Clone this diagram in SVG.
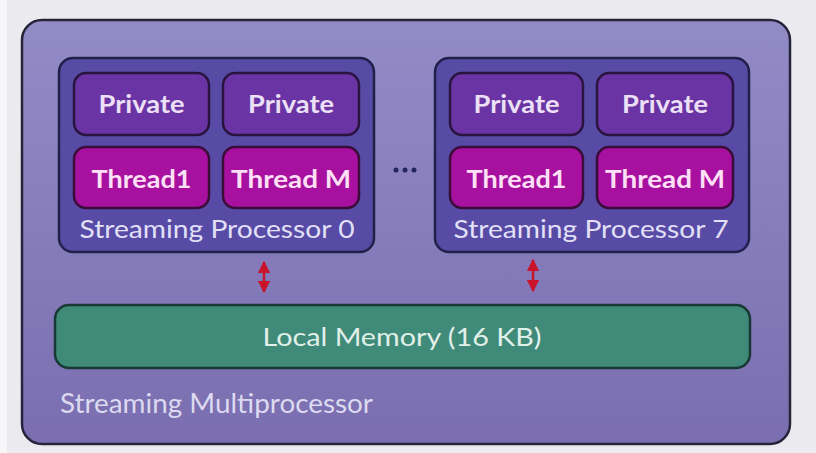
<svg xmlns="http://www.w3.org/2000/svg" width="816" height="453" viewBox="0 0 816 453">
  <style>
    .lbl { font-family: "Lato", "Liberation Sans", sans-serif; text-anchor: middle; }
    .sp { fill: #574ba6; stroke: #22204a; stroke-width: 2.5; }
    .priv { fill: #6a34a4; stroke: #28143f; stroke-width: 2.5; }
    .thr { fill: #a8119f; stroke: #3a0c38; stroke-width: 2.5; }
    .privtxt { fill: #ece0f6; font-size: 24px; font-weight: bold; }
    .thrtxt { fill: #fde0f6; font-size: 25px; font-weight: bold; }
    .sptxt { fill: #e2e0f6; font-size: 25px; }
    .arrow { stroke: #c8142a; stroke-width: 2.5; fill: none; }
  </style>
  <defs>
    <linearGradient id="smFill" x1="0" y1="0" x2="0" y2="1">
      <stop offset="0" stop-color="#938bc6"/>
      <stop offset="1" stop-color="#7a6eb0"/>
    </linearGradient>
    <marker id="head" viewBox="0 0 10 10" refX="9" refY="5" markerWidth="5" markerHeight="5" orient="auto-start-reverse">
      <path d="M0,0 L10,5 L0,10 z" fill="#c8142a"/>
    </marker>
  </defs>

  <!-- page background -->
  <rect x="0" y="0" width="816" height="453" fill="#ebebef"/>
  <rect x="0" y="0" width="7" height="453" fill="#f6f6f8"/>

  <!-- streaming multiprocessor frame -->
  <g id="streaming-multiprocessor">
    <rect x="22" y="20" width="768" height="424" rx="20" fill="url(#smFill)" stroke="#26243a" stroke-width="2.5"/>
    <text x="60" y="413" textLength="313" lengthAdjust="spacingAndGlyphs" style="font-family: 'Lato', 'Liberation Sans', sans-serif; font-size: 26px; fill: #dcdaf0;">Streaming Multiprocessor</text>
  </g>

  <!-- streaming processor 0 -->
  <g id="sp0">
    <rect class="sp" x="59" y="58" width="315" height="194" rx="14"/>
    <rect class="priv" x="74" y="73" width="135" height="62" rx="12"/>
    <text class="lbl privtxt" x="141.5" y="113" textLength="86" lengthAdjust="spacingAndGlyphs">Private</text>
    <rect class="priv" x="223" y="73" width="136" height="62" rx="12"/>
    <text class="lbl privtxt" x="291" y="113" textLength="86" lengthAdjust="spacingAndGlyphs">Private</text>
    <rect class="thr" x="74" y="147" width="135" height="61" rx="12"/>
    <text class="lbl thrtxt" x="141.5" y="188" textLength="100" lengthAdjust="spacingAndGlyphs">Thread1</text>
    <rect class="thr" x="223" y="147" width="136" height="61" rx="12"/>
    <text class="lbl thrtxt" x="291" y="188" textLength="120" lengthAdjust="spacingAndGlyphs">Thread M</text>
    <text class="lbl sptxt" x="217" y="238" textLength="275" lengthAdjust="spacingAndGlyphs">Streaming Processor 0</text>
  </g>

  <!-- ellipsis between processors -->
  <g id="ellipsis" fill="#25255e">
    <circle cx="396" cy="170" r="2.5"/>
    <circle cx="405" cy="170" r="2.5"/>
    <circle cx="414" cy="170" r="2.5"/>
  </g>

  <!-- streaming processor 7 -->
  <g id="sp7">
    <rect class="sp" x="435" y="58" width="314" height="194" rx="14"/>
    <rect class="priv" x="450" y="73" width="133" height="62" rx="12"/>
    <text class="lbl privtxt" x="516.5" y="113" textLength="86" lengthAdjust="spacingAndGlyphs">Private</text>
    <rect class="priv" x="597" y="73" width="136" height="62" rx="12"/>
    <text class="lbl privtxt" x="665" y="113" textLength="86" lengthAdjust="spacingAndGlyphs">Private</text>
    <rect class="thr" x="450" y="147" width="133" height="61" rx="12"/>
    <text class="lbl thrtxt" x="516.5" y="188" textLength="100" lengthAdjust="spacingAndGlyphs">Thread1</text>
    <rect class="thr" x="597" y="147" width="136" height="61" rx="12"/>
    <text class="lbl thrtxt" x="665" y="188" textLength="120" lengthAdjust="spacingAndGlyphs">Thread M</text>
    <text class="lbl sptxt" x="591" y="238" textLength="275" lengthAdjust="spacingAndGlyphs">Streaming Processor 7</text>
  </g>

  <!-- local memory -->
  <g id="local-memory">
    <rect x="55" y="305" width="695" height="63" rx="14" fill="#3f8a78" stroke="#173a34" stroke-width="2.5"/>
    <text class="lbl" x="402" y="346" textLength="279" lengthAdjust="spacingAndGlyphs" style="font-size: 25px; fill: #e2f0ea;">Local Memory (16 KB)</text>
  </g>

  <!-- connectors -->
  <g id="connectors">
    <line class="arrow" x1="264" y1="262" x2="264" y2="292" marker-start="url(#head)" marker-end="url(#head)"/>
    <line class="arrow" x1="533" y1="260" x2="533" y2="291" marker-start="url(#head)" marker-end="url(#head)"/>
  </g>
</svg>
